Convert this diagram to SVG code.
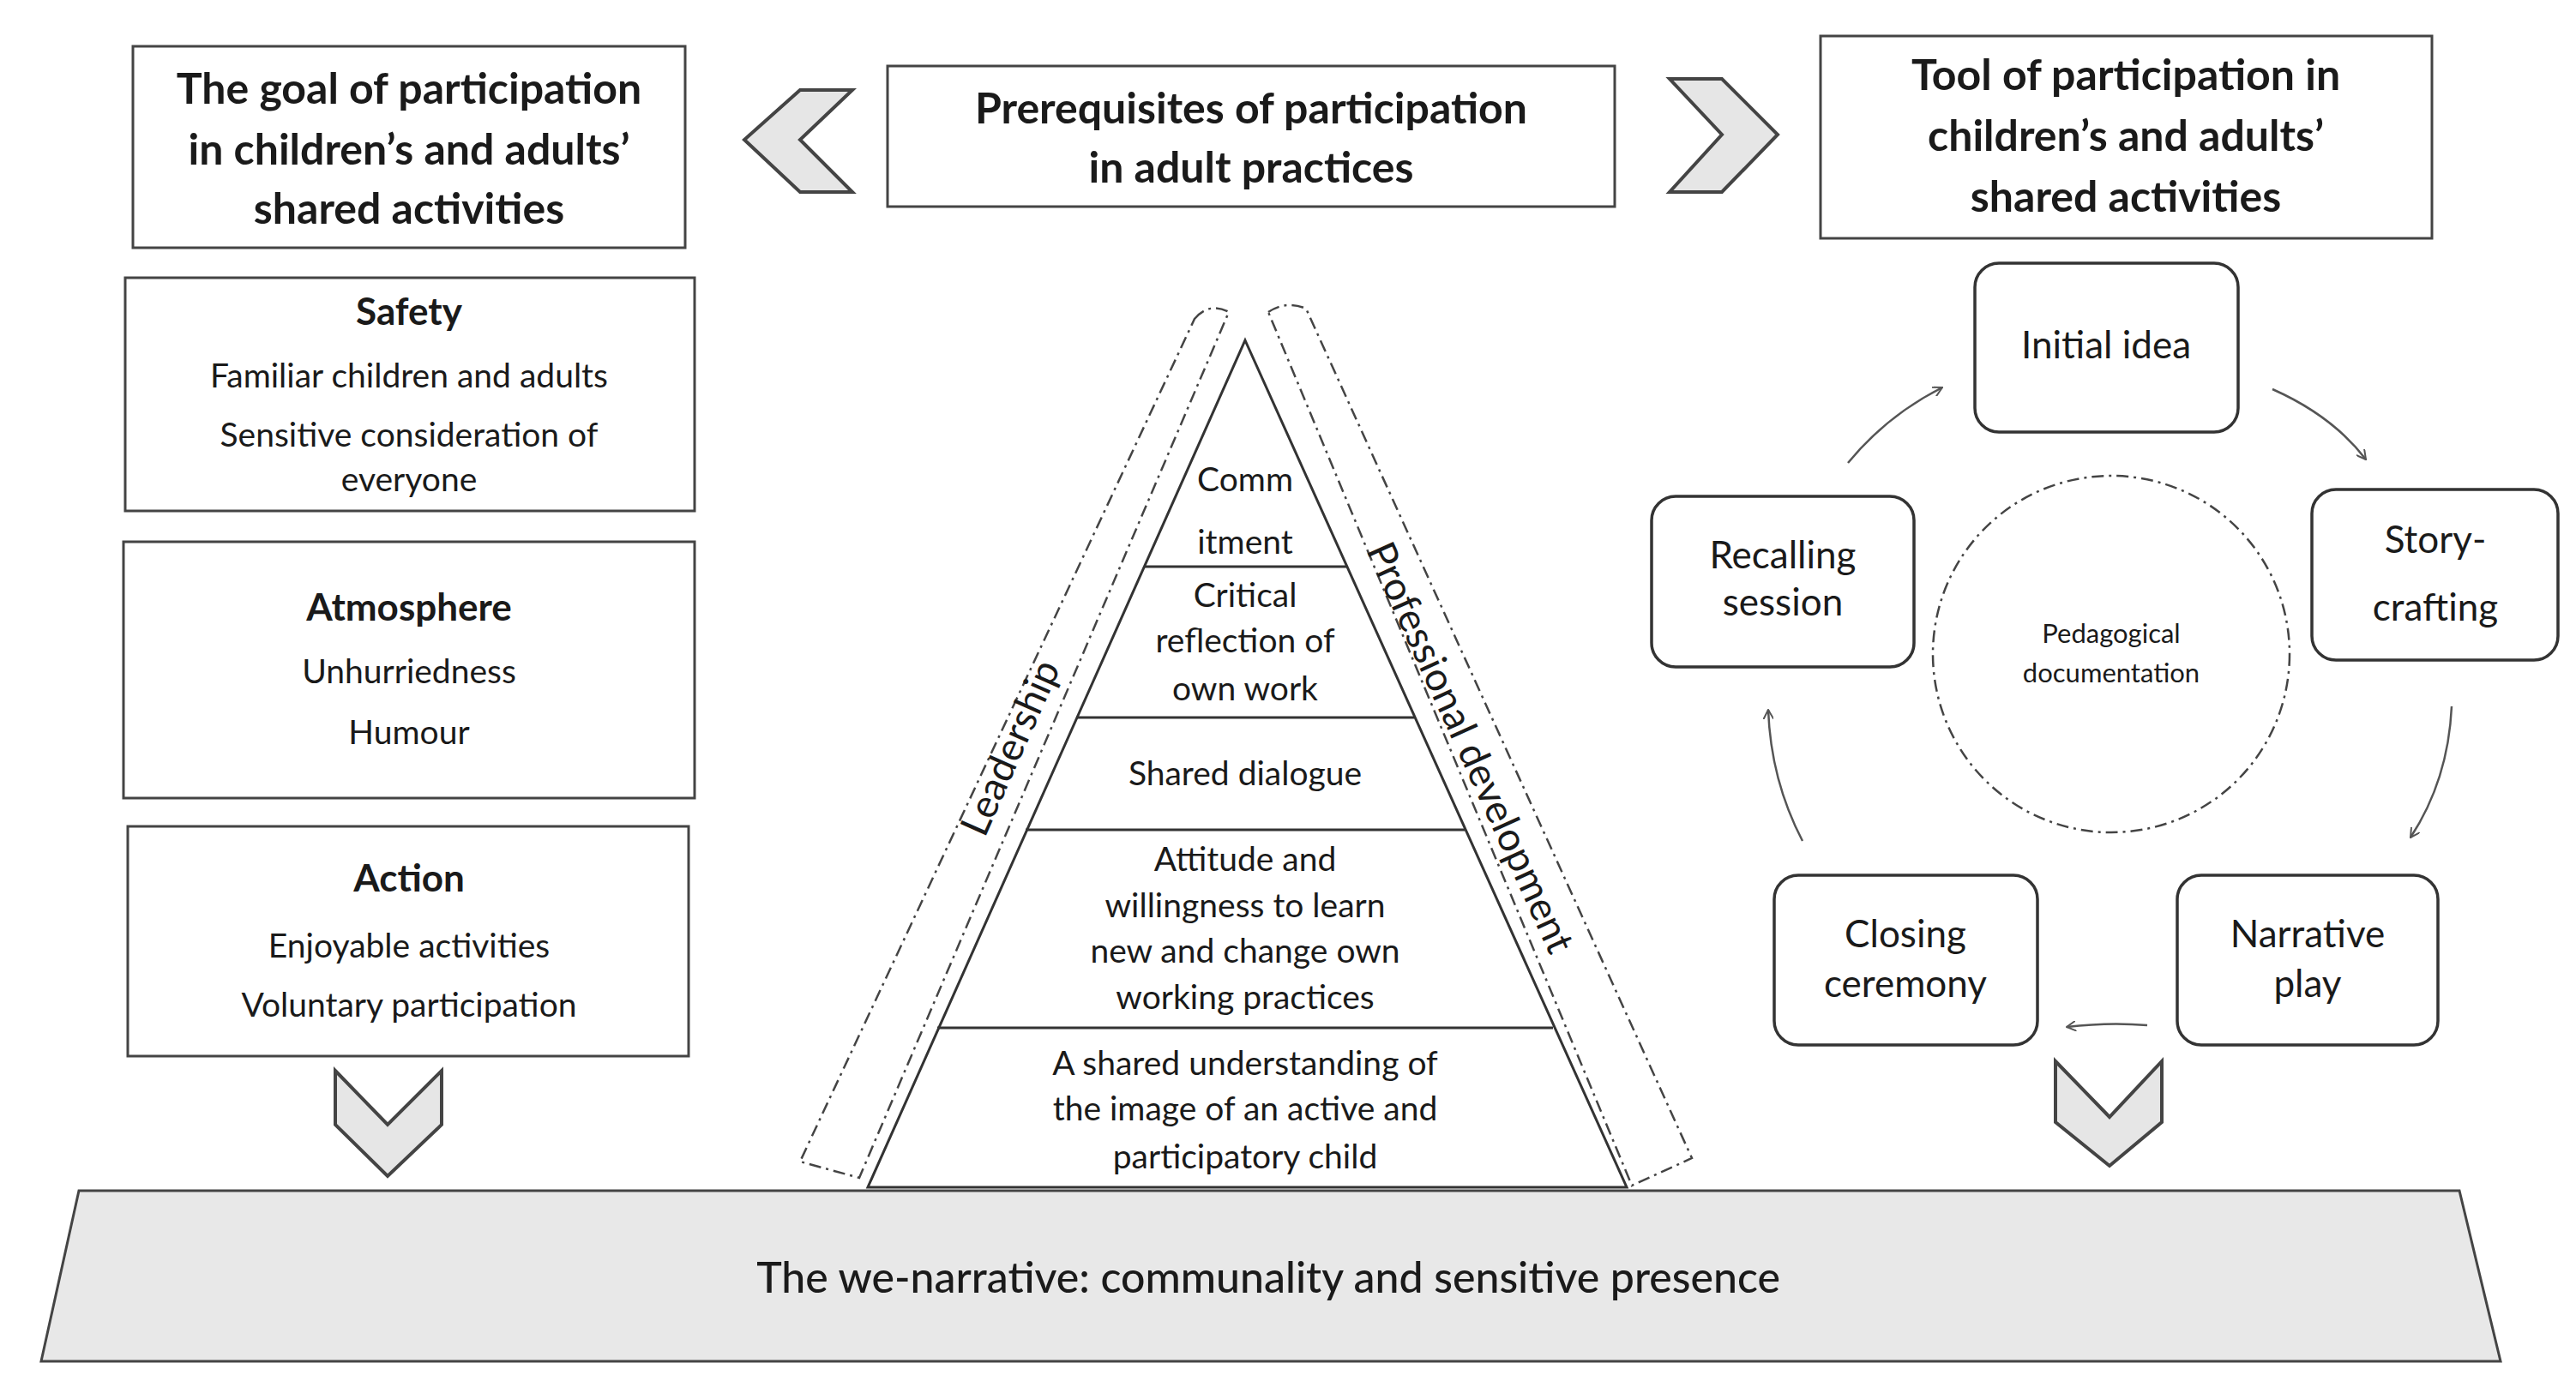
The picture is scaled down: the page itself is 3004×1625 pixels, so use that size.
<svg xmlns="http://www.w3.org/2000/svg" width="3004" height="1625" viewBox="0 0 3004 1625">
<defs>
<style>
.box{fill:#fff;stroke:#444;stroke-width:3}
.rbox{fill:#fff;stroke:#333;stroke-width:3.5}
.chev{fill:#e6e6e6;stroke:#444;stroke-width:4;stroke-linejoin:miter}
.t{font-family:Lato,"Open Sans",sans-serif;fill:#1a1a1a;text-anchor:middle}
.h{font-size:50px;font-weight:bold}
.m{font-size:50px;font-weight:500}
.b{font-size:44px;font-weight:bold}
.r{font-size:39px}
.band{fill:none;stroke:#444;stroke-width:2.5;stroke-dasharray:14 6 3 6}
.ln{fill:none;stroke:#333;stroke-width:3}
.arr{fill:none;stroke:#555;stroke-width:2.5;marker-end:url(#ah)}
</style>
<marker id="ah" viewBox="0 0 12 12" refX="11" refY="6" markerWidth="12" markerHeight="12" orient="auto" markerUnits="userSpaceOnUse"><path d="M0,0 L11,6 L0,12" fill="none" stroke="#555" stroke-width="2"/></marker>
</defs>
<rect width="3004" height="1625" fill="#fff"/>

<g id="base">
<polygon points="92,1389 2868,1389 2916,1588 48,1588" fill="#e8e8e8" stroke="#444" stroke-width="3"/>
<text class="t m" x="1479" y="1508">The we-narrative: communality and sensitive presence</text>
</g>

<g id="goal">
<rect class="box" x="155" y="54" width="644" height="235"/>
<text class="t h" x="477" y="121">The goal of participation</text>
<text class="t h" x="477" y="192">in children’s and adults’</text>
<text class="t h" x="477" y="261">shared activities</text>
</g>
<g id="prereq">
<rect class="box" x="1035" y="77" width="848" height="164"/>
<text class="t h" x="1459" y="144">Prerequisites of participation</text>
<text class="t h" x="1459" y="213">in adult practices</text>
</g>
<g id="tool">
<rect class="box" x="2123" y="42" width="713" height="236"/>
<text class="t h" x="2479" y="105">Tool of participation in</text>
<text class="t h" x="2479" y="176">children’s and adults’</text>
<text class="t h" x="2479" y="247">shared activities</text>
</g>

<g id="chevrons">
<polygon class="chev" points="933,105 994,105 933,163 994,224 933,224 868,163"/>
<polygon class="chev" points="1947,92 2008,92 2073,157 2008,224 1947,224 2008,157"/>
<polygon class="chev" points="391,1249 452,1312 515,1249 515,1312 452,1372 391,1312"/>
<polygon class="chev" points="2397,1238 2460,1303 2521,1238 2521,1309 2460,1360 2397,1309"/>
</g>

<g id="safety">
<rect class="box" x="146" y="324" width="664" height="272"/>
<text class="t b" x="477" y="379">Safety</text>
<text class="t r" x="477" y="452">Familiar children and adults</text>
<text class="t r" x="477" y="521">Sensitive consideration of</text>
<text class="t r" x="477" y="573">everyone</text>
</g>
<g id="atmosphere">
<rect class="box" x="144" y="632" width="666" height="299"/>
<text class="t b" x="477" y="724">Atmosphere</text>
<text class="t r" x="477" y="797">Unhurriedness</text>
<text class="t r" x="477" y="868">Humour</text>
</g>
<g id="action">
<rect class="box" x="149" y="964" width="654" height="268"/>
<text class="t b" x="477" y="1040">Action</text>
<text class="t r" x="477" y="1117">Enjoyable activities</text>
<text class="t r" x="477" y="1186">Voluntary participation</text>
</g>

<g id="pyramid">
<polygon points="1452,397 1897,1385 1012,1385" fill="#fff" stroke="#333" stroke-width="3"/>
<line class="ln" x1="1334" y1="661" x2="1570" y2="661"/>
<line class="ln" x1="1255" y1="837" x2="1649" y2="837"/>
<line class="ln" x1="1196" y1="968" x2="1708" y2="968"/>
<line class="ln" x1="1093" y1="1199" x2="1811" y2="1199"/>
<g class="t r">
<text x="1452" y="573">Comm</text>
<text x="1452" y="646">itment</text>
<text x="1452" y="708">Critical</text>
<text x="1452" y="761">reflection of</text>
<text x="1452" y="817">own work</text>
<text x="1452" y="916">Shared dialogue</text>
<text x="1452" y="1016">Attitude and</text>
<text x="1452" y="1070">willingness to learn</text>
<text x="1452" y="1123">new and change own</text>
<text x="1452" y="1177">working practices</text>
<text x="1452" y="1254">A shared understanding of</text>
<text x="1452" y="1307">the image of an active and</text>
<text x="1452" y="1363">participatory child</text>
</g>
</g>

<g id="leadership">
<path class="band" d="M1393,372 Q1410,352 1433,364 L1002,1374 L933,1355 Z"/>
<text class="t" font-size="46" transform="translate(1178,872) rotate(-66)" y="16">Leadership</text>
</g>
<g id="professional">
<path class="band" d="M1479,364 Q1500,350 1523,360 L1973,1351 L1903,1383 Z"/>
<text class="t" font-size="46" transform="translate(1715,872) rotate(65.6)" y="16">Professional development</text>
</g>

<g id="documentation">
<circle cx="2462" cy="763" r="208" fill="none" stroke="#444" stroke-width="2.5" stroke-dasharray="14 6 3 6"/>
<text class="t" font-size="31" x="2462" y="750">Pedagogical</text>
<text class="t" font-size="31" x="2462" y="796">documentation</text>
</g>

<g id="initial">
<rect class="rbox" x="2303" y="307" width="307" height="197" rx="28"/>
<text class="t" font-size="44" x="2456" y="418">Initial idea</text>
</g>
<g id="story">
<rect class="rbox" x="2696" y="571" width="287" height="199" rx="28"/>
<text class="t" font-size="44" x="2840" y="645">Story-</text>
<text class="t" font-size="44" x="2840" y="724">crafting</text>
</g>
<g id="narrative">
<rect class="rbox" x="2539" y="1021" width="304" height="198" rx="28"/>
<text class="t" font-size="44" x="2691" y="1105">Narrative</text>
<text class="t" font-size="44" x="2691" y="1163">play</text>
</g>
<g id="closing">
<rect class="rbox" x="2069" y="1021" width="307" height="198" rx="28"/>
<text class="t" font-size="44" x="2222" y="1105">Closing</text>
<text class="t" font-size="44" x="2222" y="1163">ceremony</text>
</g>
<g id="recalling">
<rect class="rbox" x="1926" y="579" width="306" height="199" rx="28"/>
<text class="t" font-size="44" x="2079" y="663">Recalling</text>
<text class="t" font-size="44" x="2079" y="718">session</text>
</g>

<g id="connectors">
<path class="arr" d="M2155,540 Q2200,485 2265,452"/>
<path class="arr" d="M2650,454 Q2720,485 2759,536"/>
<path class="arr" d="M2859,824 Q2855,910 2811,977"/>
<path class="arr" d="M2504,1196 Q2460,1192 2410,1198"/>
<path class="arr" d="M2102,981 Q2065,910 2062,828"/>
</g>
</svg>
